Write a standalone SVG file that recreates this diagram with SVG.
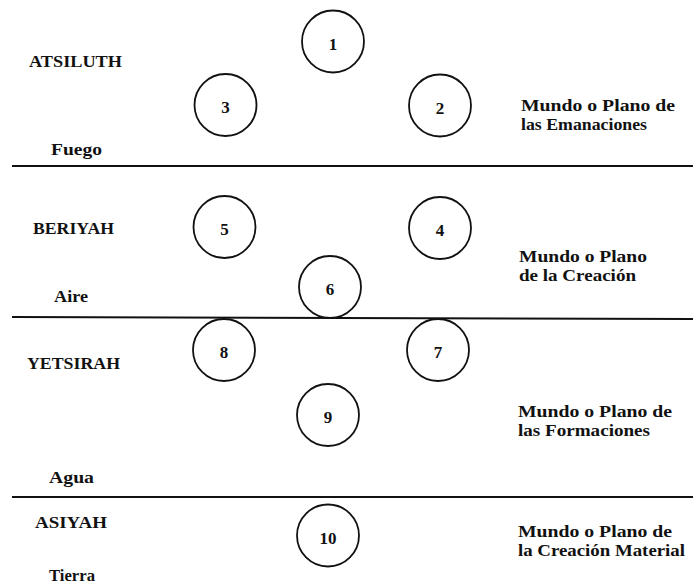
<svg xmlns="http://www.w3.org/2000/svg" width="693" height="584" viewBox="0 0 693 584">
<style>
.bg{fill:#fff}
.n circle{fill:none;stroke:#111;stroke-width:1.8}
.n text{font-family:"Liberation Serif","DejaVu Serif",serif;font-weight:bold;font-size:17px;fill:#111;text-anchor:middle}
.t{font-family:"Liberation Serif","DejaVu Serif",serif;font-weight:bold;font-size:17px;fill:#111}
.sep line{stroke:#111;stroke-width:2}
</style>
<rect class="bg" width="693" height="584"/>
<g id="separators" class="sep">
<line x1="12" y1="166" x2="693" y2="166"/>
<line x1="12" y1="317" x2="693" y2="319"/>
<line x1="12" y1="497" x2="693" y2="497"/>
</g>
<g id="connectors"></g>
<g id="n1" class="n"><circle cx="333" cy="41.5" r="31"/><text x="333" y="50">1</text></g>
<g id="n2" class="n"><circle cx="440" cy="105.5" r="31"/><text x="440" y="113.5">2</text></g>
<g id="n3" class="n"><circle cx="225.5" cy="105" r="31"/><text x="225.5" y="113">3</text></g>
<g id="n4" class="n"><circle cx="440" cy="228" r="31"/><text x="440" y="236">4</text></g>
<g id="n5" class="n"><circle cx="224.5" cy="227" r="31"/><text x="224.5" y="235">5</text></g>
<g id="n6" class="n"><circle cx="330" cy="287" r="31"/><text x="330" y="295">6</text></g>
<g id="n7" class="n"><circle cx="438" cy="350" r="31"/><text x="438" y="358">7</text></g>
<g id="n8" class="n"><circle cx="224" cy="350" r="31"/><text x="224" y="358">8</text></g>
<g id="n9" class="n"><circle cx="328" cy="415" r="31"/><text x="328" y="423">9</text></g>
<g id="n10" class="n"><circle cx="328" cy="535.5" r="31"/><text x="328" y="543.5">10</text></g>
<g id="labels-left">
<text class="t" x="29" y="67" textLength="93" lengthAdjust="spacingAndGlyphs">ATSILUTH</text>
<text class="t" x="51" y="155" textLength="51" lengthAdjust="spacingAndGlyphs">Fuego</text>
<text class="t" x="33" y="234" textLength="81" lengthAdjust="spacingAndGlyphs">BERIYAH</text>
<text class="t" x="54" y="302" textLength="34" lengthAdjust="spacingAndGlyphs">Aire</text>
<text class="t" x="27" y="369" textLength="93" lengthAdjust="spacingAndGlyphs">YETSIRAH</text>
<text class="t" x="49" y="483" textLength="45" lengthAdjust="spacingAndGlyphs">Agua</text>
<text class="t" x="35" y="528" textLength="72" lengthAdjust="spacingAndGlyphs">ASIYAH</text>
<text class="t" x="49" y="581" textLength="46" lengthAdjust="spacingAndGlyphs">Tierra</text>
</g>
<g id="labels-right">
<text class="t" x="521" y="111" textLength="154" lengthAdjust="spacingAndGlyphs">Mundo o Plano de</text>
<text class="t" x="521" y="130" textLength="126" lengthAdjust="spacingAndGlyphs">las Emanaciones</text>
<text class="t" x="519" y="262" textLength="128" lengthAdjust="spacingAndGlyphs">Mundo o Plano</text>
<text class="t" x="519" y="281" textLength="117" lengthAdjust="spacingAndGlyphs">de la Creación</text>
<text class="t" x="518" y="417" textLength="154" lengthAdjust="spacingAndGlyphs">Mundo o Plano de</text>
<text class="t" x="518" y="436" textLength="132" lengthAdjust="spacingAndGlyphs">las Formaciones</text>
<text class="t" x="518" y="537" textLength="154" lengthAdjust="spacingAndGlyphs">Mundo o Plano de</text>
<text class="t" x="518" y="556" textLength="167" lengthAdjust="spacingAndGlyphs">la Creación Material</text>
</g>
</svg>
